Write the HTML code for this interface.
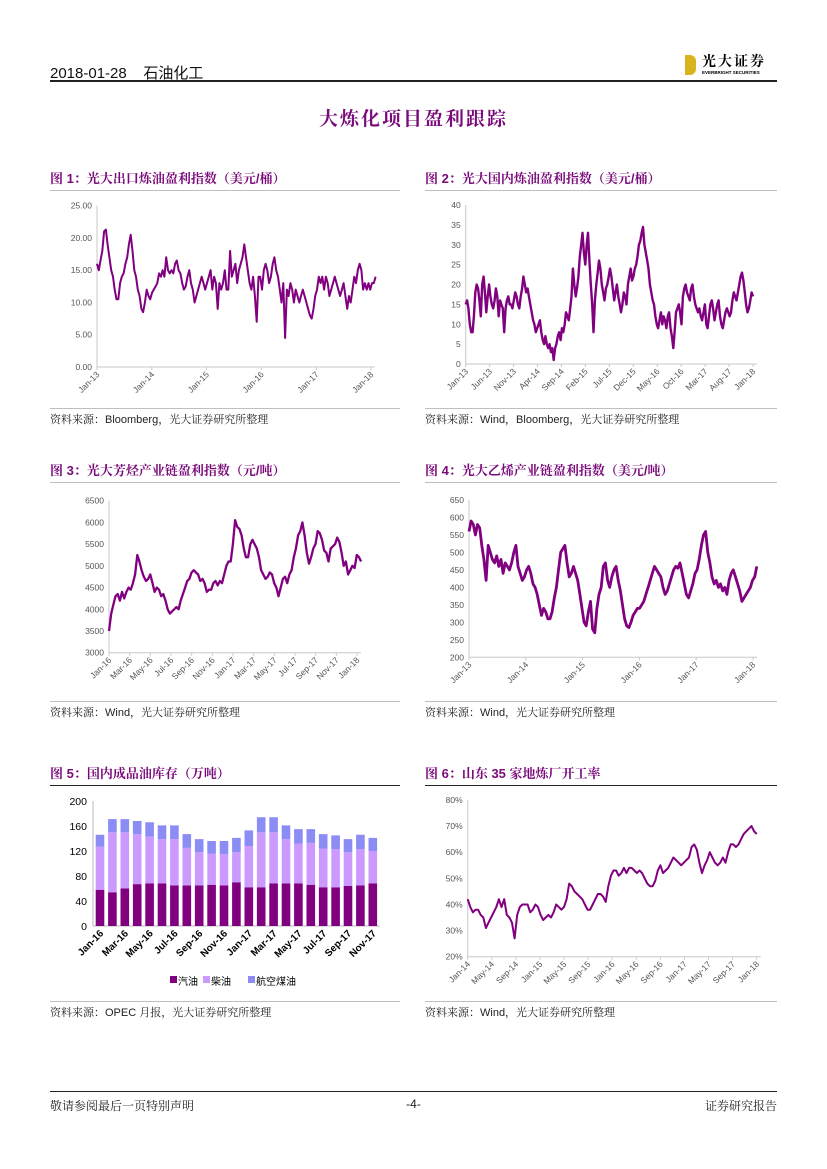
<!DOCTYPE html>
<html><head><meta charset="utf-8">
<style>
html,body{margin:0;padding:0;background:#fff;}
body{width:827px;height:1169px;position:relative;overflow:hidden;font-family:"Liberation Sans","Noto Sans CJK SC",sans-serif;}
.t{position:absolute;white-space:nowrap;}
.fig{color:#7a0a7a;font-weight:bold;font-size:13px;font-family:"Liberation Sans","Noto Serif CJK SC",serif;}
.src{font-size:11px;color:#222;font-family:"Liberation Sans","Noto Serif CJK SC",serif;}
.hl{position:absolute;height:1px;background:#bfbfbf;}
</style></head>
<body>
<div class="t" style="left:50px;top:62px;font-size:15px;color:#111;">2018-01-28&nbsp;&nbsp;&nbsp;&nbsp;石油化工</div>
<div style="position:absolute;left:685px;top:55px;width:11px;height:20px;background:#d9b41c;border-radius:0 6px 6px 0;"></div>
<div class="t" style="left:702px;top:51px;font-size:14px;font-weight:bold;letter-spacing:2px;font-family:'Liberation Serif','Noto Serif CJK SC',serif;">光大证券</div>
<div class="t" style="left:702px;top:70px;font-size:4.5px;font-weight:bold;">EVERBRIGHT SECURITIES</div>
<div style="position:absolute;left:50px;top:80px;width:727px;height:2px;background:#222;"></div>
<div class="t" style="left:0;width:827px;text-align:center;top:104px;font-size:19px;font-weight:bold;color:#7a0a7a;letter-spacing:2px;font-family:'Liberation Serif','Noto Serif CJK SC',serif;">大炼化项目盈利跟踪</div>

<div class="t fig" style="left:50px;top:168px;">图 1：光大出口炼油盈利指数（美元/桶）</div>
<div class="t fig" style="left:425px;top:168px;">图 2：光大国内炼油盈利指数（美元/桶）</div>
<div class="hl" style="left:50px;top:190px;width:350px;"></div><div class="hl" style="left:425px;top:190px;width:352px;"></div>
<div class="hl" style="left:50px;top:408px;width:350px;"></div><div class="hl" style="left:425px;top:408px;width:352px;"></div>
<div class="t src" style="left:50px;top:411px;">资料来源：Bloomberg，光大证券研究所整理</div>
<div class="t src" style="left:425px;top:411px;">资料来源：Wind，Bloomberg，光大证券研究所整理</div>

<div class="t fig" style="left:50px;top:460px;">图 3：光大芳烃产业链盈利指数（元/吨）</div>
<div class="t fig" style="left:425px;top:460px;">图 4：光大乙烯产业链盈利指数（美元/吨）</div>
<div class="hl" style="left:50px;top:482px;width:350px;"></div><div class="hl" style="left:425px;top:482px;width:352px;"></div>
<div class="hl" style="left:50px;top:701px;width:350px;"></div><div class="hl" style="left:425px;top:701px;width:352px;"></div>
<div class="t src" style="left:50px;top:704px;">资料来源：Wind，光大证券研究所整理</div>
<div class="t src" style="left:425px;top:704px;">资料来源：Wind，光大证券研究所整理</div>

<div class="t fig" style="left:50px;top:763px;">图 5：国内成品油库存（万吨）</div>
<div class="t fig" style="left:425px;top:763px;">图 6：山东 35 家地炼厂开工率</div>
<div class="hl" style="left:50px;top:785px;width:350px;background:#222;"></div><div class="hl" style="left:425px;top:785px;width:352px;background:#222;"></div>
<div class="hl" style="left:50px;top:1001px;width:350px;"></div><div class="hl" style="left:425px;top:1001px;width:352px;"></div>
<div class="t src" style="left:50px;top:1004px;">资料来源：OPEC 月报，光大证券研究所整理</div>
<div class="t src" style="left:425px;top:1004px;">资料来源：Wind，光大证券研究所整理</div>

<div style="position:absolute;left:50px;top:1091px;width:727px;height:1px;background:#222;"></div>
<div class="t src" style="left:50px;top:1097px;font-size:12px;">敬请参阅最后一页特别声明</div>
<div class="t src" style="left:0;width:827px;text-align:center;top:1097px;font-size:12px;">-4-</div>
<div class="t src" style="right:50px;top:1097px;font-size:12px;">证券研究报告</div>

<svg id="svg" width="827" height="1169" style="position:absolute;left:0;top:0;" xmlns="http://www.w3.org/2000/svg"></svg>

<script>
const c1Values=[16,15,16.5,18,21,21.3,19,17,15,14,12,10.5,10.5,13,14,14.5,16,17,19,20.5,18,15,14,12,11,9,8.5,10,12,11,10.5,11.5,12,12.5,13,14.5,14,15,14,17,15,14.5,15,14.5,16,16.5,15,14.5,13,12,12.5,14,15,13,12,10,11,12,13,14,13,12,13,14,15,12,14,13,9,13,12,13,15,12,12,18,14,15,16,13,15,16,17,19,17,15,13,12,14,11,7,14,14,12,15,16,15,13,14,16,17,15,14,12,10,13,4.5,12,11,13,12,10,12,11,10,11,12,11,10,9,8,7.5,9,11,12,14,13,14,12,14,13,11,12,13,14,13,12,11,12,13,11,9,11,10,12,14,13,15,16,15,12,13,12,13,12,13,13,14];
const c1YTicks=[0,5,10,15,20,25];
const c1XLabels=["Jan-13","Jan-14","Jan-15","Jan-16","Jan-17","Jan-18"];

const c2Values=[15,16,14,10,8,8,12,18,20,19,16,12,20,22,18,13,17,20,17,15,14,16,19,17,12,16,15,14,8,14,16,17,15,15,14,16,18,17,15,14,17,19,22,20,18,19,17,15,13,11,10,8,9,10,11,8,6,5,7,5,4,5,3,4,1,4,5,7,8,6,9,8,10,13,12,11,14,17,24,20,17,19,22,27,30,33,28,25,30,33,26,20,15,8,16,20,23,26,24,20,18,16,19,20,22,24,22,19,16,18,20,17,15,13,15,18,17,15,20,22,24,21,22,24,25,27,30,31,33,34.5,30,28,26,24,20,18,16,15,12,10,9,11,13,10,12,11,9,12,13,9,7,4,8,13,14,15,13,10,17,19,20,18,17,16,19,20,17,15,14,13,14,12,11,13,15,10,9,12,15,16,14,11,13,15,16,12,10,9,11,13,14,13,12,13,16,18,17,16,18,20,22,23,21,18,15,13,14,16,18,17];
const c2YTicks=[0,5,10,15,20,25,30,35,40];
const c2XLabels=["Jan-13","Jun-13","Nov-13","Apr-14","Sep-14","Feb-15","Jul-15","Dec-15","May-16","Oct-16","Mar-17","Aug-17","Jan-18"];

const c3Values=[3500,3900,4100,4300,4350,4200,4400,4250,4400,4500,4450,4600,4800,5250,5100,4900,4750,4650,4700,4800,4600,4400,4500,4450,4300,4350,4200,4000,3900,3950,4000,4050,4000,4200,4350,4500,4650,4700,4850,4900,4850,4800,4650,4700,4600,4400,4450,4450,4600,4650,4550,4650,4600,4800,5000,5100,5100,5500,6050,5900,5850,5700,5400,5200,5200,5500,5600,5500,5400,5200,4900,4800,4700,4750,4850,4800,4600,4500,4300,4500,4700,4750,4600,4800,4900,5200,5400,5700,5800,6000,5700,5300,5050,5200,5400,5500,5800,5750,5600,5350,5300,5100,5400,5450,5500,5650,5550,5300,5000,5100,4800,4900,5000,4950,5250,5200,5100];
const c3YTicks=[3000,3500,4000,4500,5000,5500,6000,6500];
const c3XLabels=["Jan-16","Mar-16","May-16","Jul-16","Sep-16","Nov-16","Jan-17","Mar-17","May-17","Jul-17","Sep-17","Nov-17","Jan-18"];

const c4Values=[560,590,580,550,580,570,520,480,420,520,500,480,470,490,460,480,440,470,460,450,470,500,520,460,440,420,430,450,460,440,410,400,380,350,320,340,330,310,310,330,370,400,450,500,510,520,470,430,440,460,440,420,380,340,300,290,330,360,280,270,340,380,400,460,470,420,400,430,450,460,420,390,350,310,290,285,300,320,330,340,340,350,360,380,400,420,440,460,450,440,430,400,380,390,410,430,450,460,455,470,440,410,380,370,390,410,440,450,480,520,550,560,500,470,430,410,420,400,410,390,400,380,420,440,450,430,410,390,360,370,380,390,400,420,430,460];
const c4YTicks=[200,250,300,350,400,450,500,550,600,650];
const c4XLabels=["Jan-13","Jan-14","Jan-15","Jan-16","Jan-17","Jan-18"];

const c6Values=[42,39,37,38,38,36,35,31,33,35,37,39,42,39,42,36,35,33,27,36,39,40,40,40,37,38,40,39,36,34,35,36,35,37,40,39,38,39,42,48,47,45,44,43,42,40,38,38,40,42,44,44,43,41,47,51,53,53,51,52,54,52,54,54,53,52,53,52,50,48,47,47,49,53,55,52,53,54,56,58,57,56,55,56,57,58,62,63,61,56,52,55,57,60,58,56,55,56,58,56,60,63,63,62,63,65,67,68,69,70,68,67];
const c6YTicks=[20,30,40,50,60,70,80];
const c6XLabels=["Jan-14","May-14","Sep-14","Jan-15","May-15","Sep-15","Jan-16","May-16","Sep-16","Jan-17","May-17","Sep-17","Jan-18"];

const c5Months=["Jan-16","Feb-16","Mar-16","Apr-16","May-16","Jun-16","Jul-16","Aug-16","Sep-16","Oct-16","Nov-16","Dec-16","Jan-17","Feb-17","Mar-17","Apr-17","May-17","Jun-17","Jul-17","Aug-17","Sep-17","Oct-17","Nov-17"];
const c5Gasoline=[58,54,60,67,68,68,65,65,65,66,65,70,62,62,68,68,68,66,62,62,64,65,68];
const c5Diesel=[69,96,90,80,75,71,74,60,53,50,50,48,66,88,82,71,64,67,62,61,54,58,52];
const c5Jet=[19,21,21,21,23,22,22,22,21,20,21,23,25,24,24,22,23,22,23,22,21,23,21];
const c5YTicks=[0,40,80,120,160,200];
const c5Legend=["汽油","柴油","航空煤油"];

const NS="http://www.w3.org/2000/svg";
const svg=document.getElementById('svg');
const PURPLE="#800080";
function mk(tag,attrs,parent){const e=document.createElementNS(NS,tag);for(const k in attrs)e.setAttribute(k,attrs[k]);(parent||svg).appendChild(e);return e;}

function lineChart(id,o){
  const g=mk('g',{});
  
  
  const xs=v=>o.x0+(v/o.span)*(o.x1-o.x0);
  const ys=v=>o.y0-(v-o.vmin)/(o.vmax-o.vmin)*(o.y0-o.y1);
  mk('line',{x1:o.x0,y1:o.y0,x2:o.x0,y2:o.y1,stroke:'#c8c8c8','stroke-width':1},g);
  mk('line',{x1:o.x0,y1:o.y0,x2:o.x1+4,y2:o.y0,stroke:'#c8c8c8','stroke-width':1},g);
  o.yticks.forEach(t=>{
    const tx=mk('text',{x:o.x0-5,y:ys(t)+3,'text-anchor':'end','font-size':8.5,fill:'#555','font-family':'Liberation Sans, sans-serif'},g);
    tx.textContent=o.yfmt(t);
    
    
  });
  o.xlabels.forEach((l,i)=>{
    const x=xs(i*o.step);
    mk('line',{x1:x,y1:o.y0,x2:x,y2:o.y0+3,stroke:'#c8c8c8'},g);
    const tx=mk('text',{x:x+3,y:o.y0+8,'text-anchor':'end','font-size':8.5,fill:'#555','font-family':'Liberation Sans, sans-serif',transform:`rotate(-45 ${x+3} ${o.y0+8})`},g);
    tx.textContent=l;
    
    
  });
  const n=o.values.length;
  const d=o.values.map((v,i)=>(i?'L':'M')+xs(i/(n-1)*o.dataSpan).toFixed(1)+','+ys(v).toFixed(1)).join('');
  const p=mk('path',{d:d,fill:'none',stroke:PURPLE,'stroke-width':o.sw||1.6,'stroke-linejoin':'round'},g);
  
  
}
lineChart('chart-export-refining',{x0:97,x1:371,y0:367,y1:205.7,vmin:0,vmax:25,yticks:c1YTicks,yfmt:t=>t.toFixed(2),xlabels:c1XLabels,step:12,span:60,values:c1Values,dataSpan:61,sw:2});
lineChart('chart-domestic-refining',{x0:465.7,x1:753,y0:364,y1:205,vmin:0,vmax:40,yticks:c2YTicks,yfmt:t=>t,xlabels:c2XLabels,step:5,span:60,values:c2Values,dataSpan:60,sw:2.4});
lineChart('chart-aromatics-chain',{x0:109,x1:357,y0:652.7,y1:500.7,vmin:3000,vmax:6500,yticks:c3YTicks,yfmt:t=>t,xlabels:c3XLabels,step:2,span:24,values:c3Values,dataSpan:24.4,sw:2.3});
lineChart('chart-ethylene-chain',{x0:469,x1:753,y0:657.3,y1:500,vmin:200,vmax:650,yticks:c4YTicks,yfmt:t=>t,xlabels:c4XLabels,step:12,span:60,values:c4Values,dataSpan:60.8,sw:2.8});
lineChart('chart-shandong-utilization',{x0:467.7,x1:756.7,y0:956.7,y1:800,vmin:20,vmax:80,yticks:c6YTicks,yfmt:t=>t+'%',xlabels:c6XLabels,step:4,span:48,values:c6Values,dataSpan:48,sw:2});

(function(){
  const g=mk('g',{});
  
  
  const x0=93,y0=926,y1=801,vmax=200,first=100,gap=12.4,bw=8.6;
  const ys=v=>y0-v/vmax*(y0-y1);
  const xs=i=>first+i*gap;
  mk('line',{x1:x0,y1:y0,x2:x0,y2:y1,stroke:'#bbb'},g);
  mk('line',{x1:x0,y1:y0,x2:380,y2:y0,stroke:'#bbb'},g);
  c5YTicks.forEach(t=>{
    const tx=mk('text',{x:x0-6,y:ys(t)+4,'text-anchor':'end','font-size':10.5,fill:'#000','font-family':'Liberation Sans, sans-serif'},g);
    tx.textContent=t;
    
    
  });
  const cols=['#800080','#cc99ff','#8c8cf5'];
  const series=[c5Gasoline,c5Diesel,c5Jet];
  c5Months.forEach((m,i)=>{
    let base=0;
    series.forEach((s,k)=>{
      const r=mk('rect',{x:xs(i)-bw/2,y:ys(base+s[i]),width:bw,height:ys(base)-ys(base+s[i]),fill:cols[k]},g);
      
      
      base+=s[i];
    });
    if(i%2===0){
      const x=xs(i)+4,y=y0+8;
      const tx=mk('text',{x:x,y:y,'text-anchor':'end','font-size':10,'font-weight':'bold',fill:'#000','font-family':'Liberation Sans, sans-serif',transform:`rotate(-45 ${x} ${y})`},g);
      tx.textContent=m;
      
      
    }
  });
  const lx=[170,203,248];
  c5Legend.forEach((l,k)=>{
    const r=mk('rect',{x:lx[k],y:976,width:7,height:7,fill:cols[k]},g);
    
    
    const tx=mk('text',{x:lx[k]+8,y:985,'font-size':10,fill:'#000','font-family':'Liberation Sans, Noto Sans CJK SC, sans-serif'},g);
    tx.textContent=l;
    
    
  });
})();
</script>
</body></html>
